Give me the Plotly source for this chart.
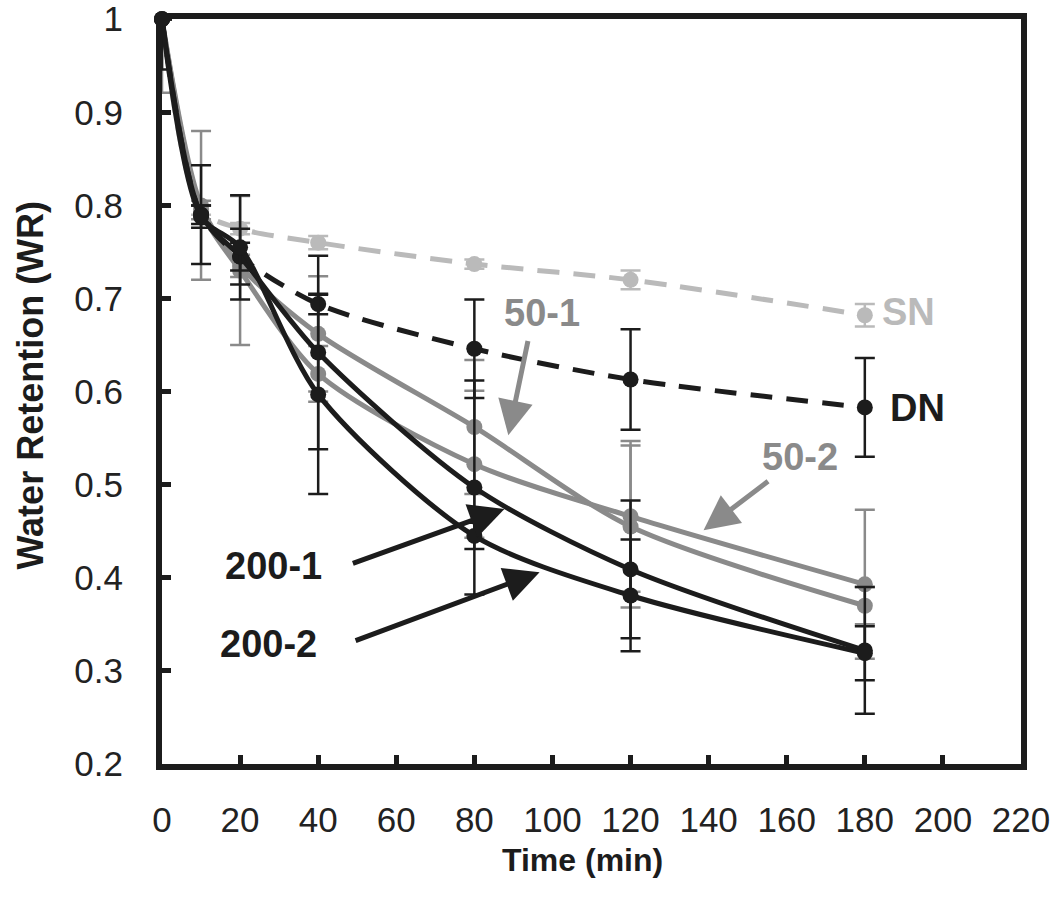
import plotly.graph_objects as go

# ---------------- data ----------------
time_min = [0, 10, 20, 40, 80, 120, 180]

sn = [1.0, 0.795, 0.775, 0.760, 0.737, 0.720, 0.682]
sn_err = [0.0, 0.005, 0.006, 0.007, 0.005, 0.010, 0.012]

dn = [1.0, 0.790, 0.745, 0.694, 0.646, 0.613, 0.583]
dn_err = [0.054, 0.053, 0.030, 0.011, 0.053, 0.054, 0.053]

s50_1 = [1.0, 0.800, 0.735, 0.662, 0.562, 0.455, 0.370]
s50_1_err = [0.0, 0.080, 0.012, 0.062, 0.072, 0.087, 0.020]

s50_2 = [1.0, 0.795, 0.730, 0.619, 0.522, 0.466, 0.393]
s50_2_err = [0.079, 0.010, 0.080, 0.030, 0.079, 0.081, 0.080]

s200_1 = [1.0, 0.790, 0.745, 0.642, 0.497, 0.409, 0.322]
s200_1_err = [0.0, 0.010, 0.015, 0.104, 0.115, 0.074, 0.068]

s200_2 = [1.0, 0.788, 0.755, 0.597, 0.445, 0.381, 0.319]
s200_2_err = [0.0, 0.012, 0.056, 0.107, 0.014, 0.060, 0.029]

x_ticks = [0, 20, 40, 60, 80, 100, 120, 140, 160, 180, 200, 220]
y_ticks = [0.2, 0.3, 0.4, 0.5, 0.6, 0.7, 0.8, 0.9, 1.0]
y_ticktext = ["0.2", "0.3", "0.4", "0.5", "0.6", "0.7", "0.8", "0.9", "1"]
Y_MAX = 1.0

BLACK = "#1c1c1c"
GRAY = "#8a8a8a"
LIGHT = "#bababa"
FONT = "Liberation Sans"

fig = go.Figure()


def add_series(y, err, color, dash, name):
    plus = [min(e, Y_MAX - v) for v, e in zip(y, err)]
    fig.add_trace(go.Scatter(
        x=time_min, y=y, name=name, mode="lines+markers",
        line=dict(color=color, width=5, dash=dash, shape="spline", smoothing=0.8),
        marker=dict(color=color, size=16),
        error_y=dict(type="data", symmetric=False, array=plus, arrayminus=err,
                     color=color, thickness=2.5, width=10),
        cliponaxis=False, showlegend=False,
    ))


add_series(sn, sn_err, LIGHT, "22px,14px", "SN")
add_series(s50_1, s50_1_err, GRAY, "solid", "50-1")
add_series(s50_2, s50_2_err, GRAY, "solid", "50-2")
add_series(dn, dn_err, BLACK, "22px,14px", "DN")
add_series(s200_1, s200_1_err, BLACK, "solid", "200-1")
add_series(s200_2, s200_2_err, BLACK, "solid", "200-2")

bold = dict(family=FONT, size=38, weight="bold")

# labels
labels = [
    ("SN", 184.0, 0.686, LIGHT, "left"),
    ("DN", 186.0, 0.582, BLACK, "left"),
    ("50-1", 97.3, 0.684, GRAY, "center"),
    ("50-2", 163.3, 0.530, GRAY, "center"),
    ("200-1", 28.5, 0.413, BLACK, "center"),
    ("200-2", 27.4, 0.329, BLACK, "center"),
]
for txt, x, y, c, xa in labels:
    fig.add_annotation(x=x, y=y, text=txt, showarrow=False, xanchor=xa, yanchor="middle",
                       font=dict(bold, color=c))

# arrows (tail -> tip)
arrows = [
    (93.8, 0.656, 88.7, 0.553, GRAY),
    (155.6, 0.505, 138.7, 0.451, GRAY),
    (48.5, 0.415, 87.7, 0.474, BLACK),
    (49.2, 0.332, 96.7, 0.406, BLACK),
]
for ax, ay, x, y, c in arrows:
    fig.add_annotation(x=x, y=y, ax=ax, ay=ay, xref="x", yref="y", axref="x", ayref="y",
                       text="", showarrow=True, arrowhead=2, arrowsize=1.4,
                       arrowwidth=5, arrowcolor=c, standoff=0, startstandoff=0)

# axis titles
fig.add_annotation(xref="paper", yref="paper", x=0.489, y=-0.129, text="Time (min)",
                   xanchor="center", yanchor="middle", showarrow=False,
                   font=dict(family=FONT, size=32, weight="bold", color=BLACK))
fig.add_annotation(xref="paper", yref="paper", x=-0.1525, y=0.508, text="Water Retention (WR)",
                   xanchor="center", yanchor="middle", textangle=-90, showarrow=False,
                   font=dict(family=FONT, size=36, weight="bold", color=BLACK))

fig.update_layout(
    width=1050, height=917,
    margin=dict(l=162, r=29, t=19, b=153),
    plot_bgcolor="white", paper_bgcolor="white",
    font=dict(family=FONT, color=BLACK),
)
fig.update_xaxes(
    range=[0, 220], tickvals=x_ticks, ticktext=[str(v) for v in x_ticks],
    showline=True, linewidth=6, linecolor=BLACK, mirror=True,
    ticks="inside", ticklen=9, tickwidth=5, tickcolor=BLACK,
    showgrid=False, zeroline=False, automargin=False, ticklabeloverflow="allow",
    tickfont=dict(family=FONT, size=35, color="#222"), ticklabelstandoff=20,
)
fig.update_yaxes(
    range=[0.2, 1.0002], tickvals=y_ticks, ticktext=y_ticktext,
    showline=True, linewidth=6, linecolor=BLACK, mirror=True,
    ticks="inside", ticklen=9, tickwidth=5, tickcolor=BLACK,
    showgrid=False, zeroline=False, automargin=False, ticklabeloverflow="allow",
    tickfont=dict(family=FONT, size=35, color="#222"), ticklabelstandoff=26,
)

fig.write_html("out.html", config={"displayModeBar": False},
               post_script="document.body.style.margin='0';document.body.style.overflow='hidden';")
